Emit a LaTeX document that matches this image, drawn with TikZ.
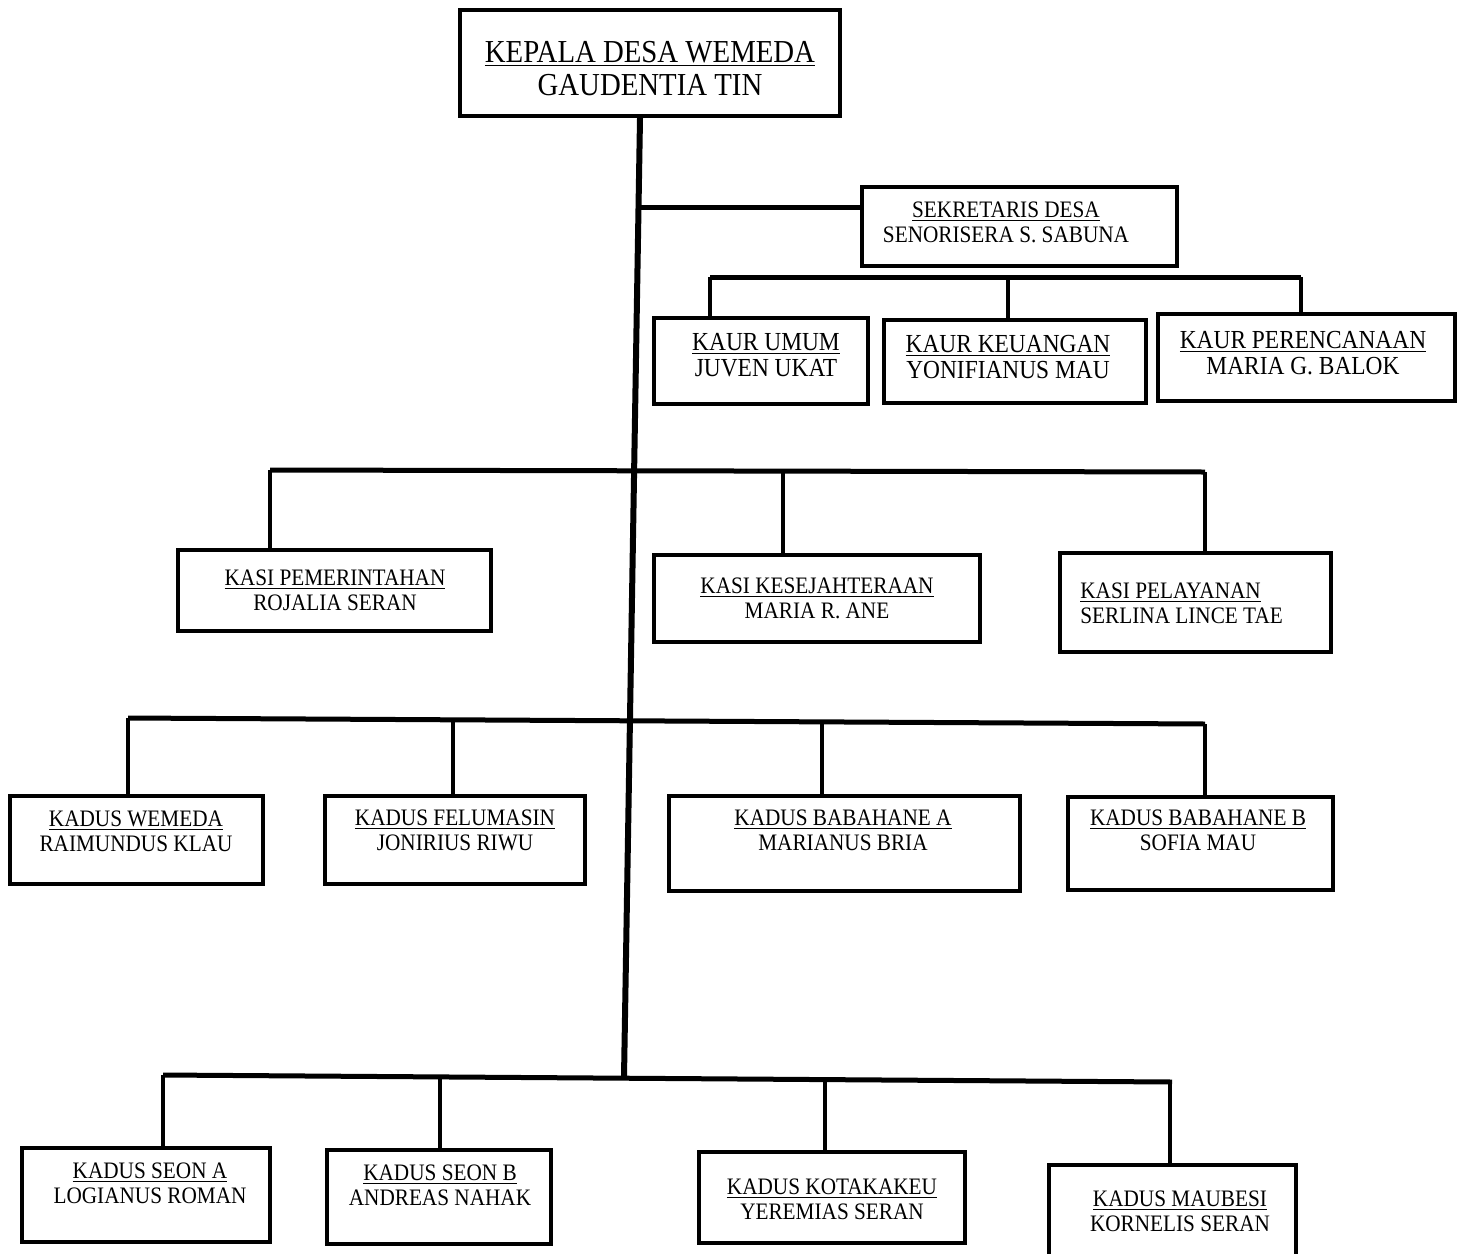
\documentclass[tikz,border=0pt]{standalone}
\usepackage{fontspec}
\setmainfont{Liberation Serif}[FakeStretch=0.9]
\usetikzlibrary{calc}

\begin{document}
\begin{tikzpicture}[x=0.5pt,y=-0.5pt,
     unit/.style={draw,rectangle,line width=2.2pt,inner sep=0pt},
     lbl/.style={align=center,anchor=base,inner sep=0pt,font=\fontsize{11.8}{12.3}\selectfont},
     trunk/.style={line width=3pt},
     bar/.style={line width=2.5pt},
     tick/.style={line width=2pt}
     ]
\useasboundingbox (0,0) rectangle (1467,1253);

%Kepala desa at the top (text y is the baseline of the last line)
\node[unit,minimum width=190pt,minimum height=53pt] (top) at (650,63) {};
\node[lbl,font=\fontsize{16}{16.5}\selectfont] (top-t) at (650,95)
   {\underline{KEPALA DESA WEMEDA}\\GAUDENTIA TIN};

%Boxes with centred text: name/x1/y1/x2/y2/text x/text y/title/person
\foreach \nm/\xa/\ya/\xb/\yb/\tx/\ty/\ti/\pe in
   {sek/862/187/1177/266/1006/242/SEKRETARIS DESA/SENORISERA S. SABUNA,
    kasipem/178/550/491/631/335/610/KASI PEMERINTAHAN/ROJALIA SERAN,
    kasikes/654/555/980/642/817/618/KASI KESEJAHTERAAN/MARIA R. ANE,
    kwemeda/10/796/263/884/136/851/KADUS WEMEDA/RAIMUNDUS KLAU,
    kfelum/325/796/585/884/455/850/KADUS FELUMASIN/JONIRIUS RIWU,
    kbaba/669/796/1020/891/843/850/KADUS BABAHANE A/MARIANUS BRIA,
    kbabb/1068/797/1333/890/1198/850/KADUS BABAHANE B/SOFIA MAU,
    kseona/22/1148/270/1242/150/1203/KADUS SEON A/LOGIANUS ROMAN,
    kseonb/327/1150/551/1244/440/1205/KADUS SEON B/ANDREAS NAHAK,
    kkota/699/1152/965/1243/832/1219/KADUS KOTAKAKEU/YEREMIAS SERAN,
    kmaub/1049/1165/1296/1266/1180/1231/KADUS MAUBESI/KORNELIS SERAN}
{
\pgfmathsetmacro{\w}{(\xb-\xa)*0.5}
\pgfmathsetmacro{\h}{(\yb-\ya)*0.5}
\node[unit,minimum width=\w pt,minimum height=\h pt] (\nm) at ({(\xa+\xb)/2},{(\ya+\yb)/2}) {};
\node[lbl] (\nm-t) at (\tx,\ty) {\underline{\ti}\\\pe};
}

%Kaur boxes, larger text
\foreach \nm/\xa/\ya/\xb/\yb/\tx/\ty/\ti/\pe in
   {kaurumum/654/318/868/404/766/376/KAUR UMUM/JUVEN UKAT,
    kaurkeu/884/320/1146/403/1008/378/KAUR KEUANGAN/YONIFIANUS MAU,
    kaurren/1158/314/1455/401/1303/374/KAUR PERENCANAAN/MARIA G. BALOK}
{
\pgfmathsetmacro{\w}{(\xb-\xa)*0.5}
\pgfmathsetmacro{\h}{(\yb-\ya)*0.5}
\node[unit,minimum width=\w pt,minimum height=\h pt] (\nm) at ({(\xa+\xb)/2},{(\ya+\yb)/2}) {};
\node[lbl,font=\fontsize{13}{13}\selectfont] (\nm-t) at (\tx,\ty) {\underline{\ti}\\\pe};
}

%Kasi pelayanan, text set to the left
\node[unit,minimum width=135.5pt,minimum height=49.5pt] (kasipel) at (1195.5,602.5) {};
\node[lbl,align=left,anchor=base west] (kasipel-t) at (1080,623)
   {\underline{KASI PELAYANAN}\\SERLINA LINCE TAE};

%Main trunk
\coordinate (trunkend) at (624,1077);
\draw[trunk] ([xshift=-5pt]top.south) -- (trunkend);

%Sekretaris
\coordinate (jsek) at (639,207);
\draw[bar] (jsek) -- (jsek -| sek.west);

%Bars: left end / right end
\coordinate (kaurl) at (710,277);  \coordinate (kaurr) at (1301,277);
\coordinate (kasil) at (270,470);  \coordinate (kasir) at (1205,472);
\coordinate (kdsal) at (128,718);  \coordinate (kdsar) at (1205,724);
\coordinate (kdsbl) at (163,1075); \coordinate (kdsbr) at (1172,1082);
\foreach \a/\b in {kaurl/kaurr,kasil/kasir,kdsal/kdsar,kdsbl/kdsbr}
   \draw[bar] (\a) -- (\b);

%Drops to the boxes: box/x/y on the bar
\foreach \nm/\x/\y in {kaurumum/710/277,kaurkeu/1008/277,kaurren/1301/277,
    kasipem/270/470,kasikes/783/471,kasipel/1205/472,
    kwemeda/128/718,kfelum/453/720,kbaba/822/722,kbabb/1205/724,
    kseona/163/1075,kseonb/440/1077,kkota/825/1079,kmaub/1170/1082}
   \draw[tick] (\x,\y) -- (\nm.north -| \x,0);
\end{tikzpicture}
\end{document}
